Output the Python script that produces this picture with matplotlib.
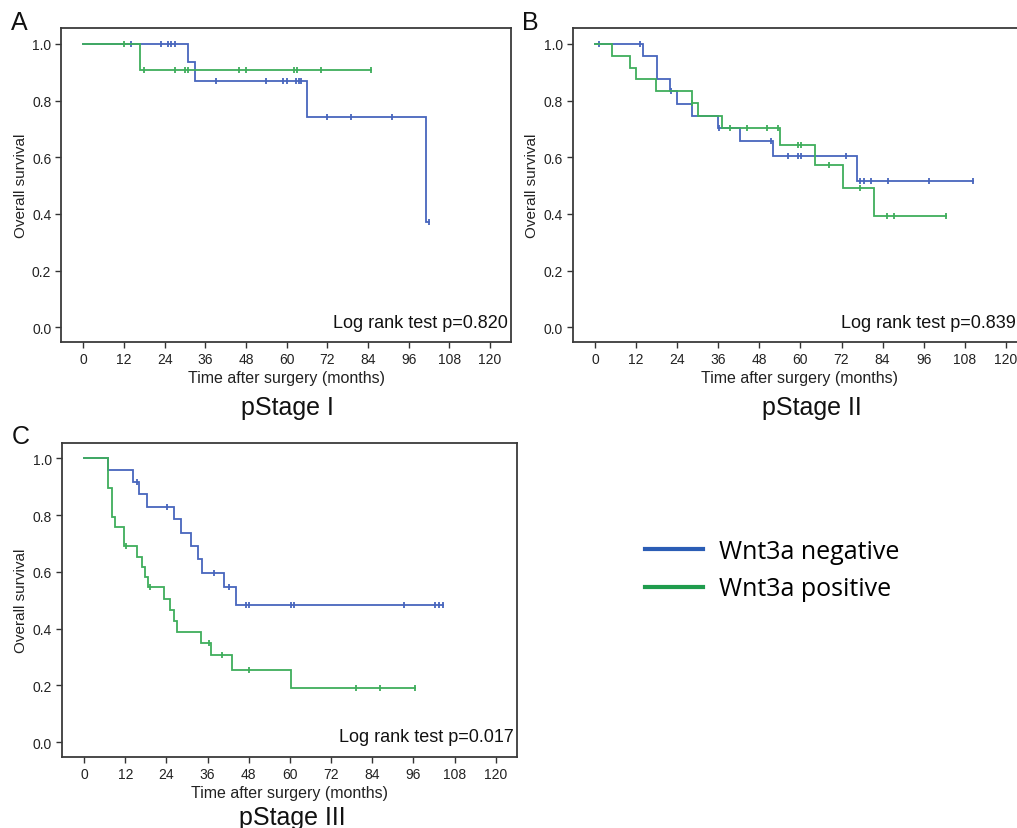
import matplotlib
matplotlib.use("Agg")
import matplotlib.pyplot as plt
from matplotlib.lines import Line2D

plt.rcParams['font.family'] = ['Liberation Sans', 'DejaVu Sans']

W, H = 1017, 829

# --- data (months, survival after each death, censor times) ---
# pStage I
a_neg_times = [31, 33, 66, 101]
a_neg_surv = [0.935, 0.868, 0.743, 0.373]
a_neg_cens = [14, 23, 25, 26, 27, 39, 54, 59, 60, 62.8, 63.5, 64.1, 72, 79, 91, 102]
a_pos_times = [16.8]
a_pos_surv = [0.909]
a_pos_cens = [12, 18, 27, 30, 31, 46, 48, 62.2, 63, 70, 85]

# pStage II
b_neg_times = [14, 18, 22, 24, 28.3, 36, 42.3, 52, 76.4]
b_neg_surv = [0.958, 0.875, 0.833, 0.789, 0.745, 0.702, 0.656, 0.604, 0.517]
b_neg_cens = [1, 13, 22.2, 36.2, 51.4, 56.3, 59.2, 60.2, 73.3, 77.4, 78.5, 80.5, 85.5, 97.5, 110.5]
b_pos_times = [5, 10.1, 12.1, 17.9, 28.2, 30.1, 37.1, 54.1, 64.3, 72.5, 81.5]
b_pos_surv = [0.958, 0.916, 0.875, 0.833, 0.79, 0.745, 0.703, 0.644, 0.573, 0.49, 0.393]
b_pos_cens = [28.3, 39.3, 44.3, 50.2, 53.3, 59.3, 60.3, 68.4, 77.3, 85.3, 87.4, 102.5]

# pStage III
c_neg_times = [7.1, 14.1, 16.1, 18.3, 26.3, 28.1, 31.2, 33.2, 34.3, 40.9, 44.4]
c_neg_surv = [0.958, 0.917, 0.874, 0.830, 0.786, 0.736, 0.691, 0.645, 0.598, 0.547, 0.485]
c_neg_cens = [15.3, 24.2, 38.0, 42.1, 47.3, 48.2, 60.2, 61.2, 93.3, 102.3, 103.5, 104.6]
c_pos_times = [7.1, 8.0, 9.0, 11.5, 15.4, 16.9, 17.6, 18.5, 23.2, 24.9, 26.1, 27.1, 34.1, 37, 43.2, 60.2]
c_pos_surv = [0.897, 0.793, 0.759, 0.690, 0.654, 0.618, 0.582, 0.546, 0.506, 0.467, 0.428,
              0.389, 0.350, 0.306, 0.255, 0.191]
c_pos_cens = [12.2, 19.2, 36.3, 40.2, 48.2, 79.3, 86.3, 96.6]

panel_letters = ['A', 'B', 'C']
stage_names = ['pStage I', 'pStage II', 'pStage III']
p_texts = ['Log rank test p=0.820', 'Log rank test p=0.839', 'Log rank test p=0.017']
xticks = list(range(0, 121, 12))
yticks = [0.0, 0.2, 0.4, 0.6, 0.8, 1.0]
legend_labels = ['Wnt3a negative', 'Wnt3a positive']

blue = '#4866bd'
green = '#3fae5c'
leg_blue = '#2b5db5'
leg_green = '#1f9c4d'


def surv_at(t, times, surv):
    s = 1.0
    for tt, ss in zip(times, surv):
        if tt <= t:
            s = ss
    return s


def km_plot(ax, times, surv, cens, color):
    end = max(times + cens)
    xs, ys = [0], [1.0]
    s = 1.0
    for t, v in zip(times, surv):
        xs += [t, t]
        ys += [s, v]
        s = v
    xs.append(end)
    ys.append(s)
    ax.plot(xs, ys, color=color, lw=1.3, solid_joinstyle='miter')
    cy = [surv_at(c, times, surv) for c in cens]
    ax.plot(cens, cy, ls='none', marker='|', ms=4.5, mew=1.3, color=color)


def px_ax(left, top, right, bottom):
    return fig.add_axes([left / W, 1 - bottom / H, (right - left) / W, (bottom - top) / H])


fig = plt.figure(figsize=(W / 100, H / 100), dpi=100)

boxes = [(61, 29, 511, 343), (572.5, 29, 1027, 343), (61.5, 443.5, 517, 758)]
data = [
    (a_neg_times, a_neg_surv, a_neg_cens, a_pos_times, a_pos_surv, a_pos_cens),
    (b_neg_times, b_neg_surv, b_neg_cens, b_pos_times, b_pos_surv, b_pos_cens),
    (c_neg_times, c_neg_surv, c_neg_cens, c_pos_times, c_pos_surv, c_pos_cens),
]

for i, box in enumerate(boxes):
    ax = px_ax(*box)
    nt, ns, nc, pt, ps, pc = data[i]
    km_plot(ax, nt, ns, nc, blue)
    km_plot(ax, pt, ps, pc, green)
    ax.set_xlim(-6.6, 126.2)
    ax.set_ylim(-0.052, 1.056)
    ax.set_xticks(xticks)
    ax.set_yticks(yticks)
    ax.set_yticklabels([f'{v:.1f}' for v in yticks])
    ax.tick_params(direction='out', length=4, width=1.0, color='#333333',
                   labelsize=10, labelcolor='#222222', pad=3)
    for sp in ax.spines.values():
        sp.set_color('#3a3a3a')
        sp.set_linewidth(1.3)
    ax.set_ylabel('Overall survival', fontsize=11, color='#222222', labelpad=3)
    ax.set_xlabel('Time after surgery (months)', fontsize=11.5, color='#222222', labelpad=3)
    left, top, right, bottom = box
    # right-aligned p-value text (kept inside the figure for panel B)
    tx = min(right - 3, W - 1)
    fig.text(tx / W, 1 - (bottom - 20) / H, p_texts[i], ha='right', va='center',
             fontsize=13, color='#111111')
    fig.text((left - 50) / W, 1 - (top - 6) / H, panel_letters[i], fontsize=18,
             ha='left', va='center', color='#111111')

# stage titles under each panel
fig.text(287 / W, 1 - 408 / H, stage_names[0], fontsize=18, ha='center', va='center', color='#111111')
fig.text(812 / W, 1 - 408 / H, stage_names[1], fontsize=18, ha='center', va='center', color='#111111')
fig.text(292 / W, 1 - 818 / H, stage_names[2], fontsize=18, ha='center', va='center', color='#111111')

# legend
handles = [Line2D([0], [0], color=leg_blue, lw=3), Line2D([0], [0], color=leg_green, lw=3)]
fig.legend(handles, legend_labels, loc='center left', bbox_to_anchor=(645 / W, 1 - 571 / H),
           frameon=False, prop={'family': 'Open Sans', 'size': 18}, handlelength=2.3,
           handletextpad=0.65, labelspacing=0.5, borderpad=0, borderaxespad=0)

fig.savefig('out.png', dpi=100)
